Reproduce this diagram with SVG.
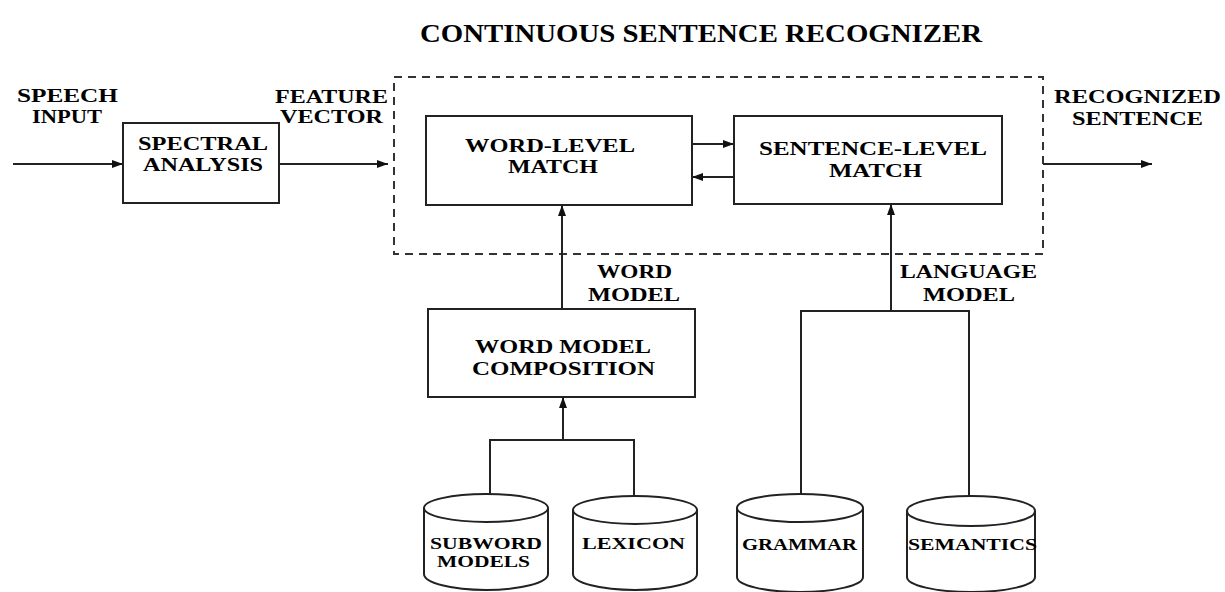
<svg xmlns="http://www.w3.org/2000/svg" width="1225" height="592" viewBox="0 0 1225 592">
  <style>
    .t { font-family: "Liberation Serif", "Times New Roman", serif; font-weight: bold; fill: #000; }
    .title { font-size: 25px; }
    .lbl { font-size: 18px; }
    .box-t { font-size: 18px; }
    .db-t { font-size: 16px; }
    .box { fill: #fff; stroke: #222; stroke-width: 2; }
    .frame { fill: none; stroke: #333; stroke-width: 2; stroke-dasharray: 8 6; }
    .wire { fill: none; stroke: #222; stroke-width: 2; }
    .arrow { fill: none; stroke: #222; stroke-width: 2; marker-end: url(#head); }
    .cyl { fill: #fff; stroke: #222; stroke-width: 2; }
  </style>
  <defs>
    <marker id="head" markerUnits="userSpaceOnUse" markerWidth="12" markerHeight="10" refX="11" refY="4" orient="auto">
      <path d="M0,0 L11,4 L0,8 Z" fill="#111"/>
    </marker>
  </defs>

  <rect width="1225" height="592" fill="#fff"/>

  <!-- heading -->
  <text class="t title" x="420" y="42" textLength="562" lengthAdjust="spacingAndGlyphs">CONTINUOUS SENTENCE RECOGNIZER</text>

  <!-- recognizer boundary -->
  <rect id="recognizer-frame" class="frame" x="394" y="77" width="649" height="177"/>

  <!-- free labels -->
  <g id="label-speech-input">
    <text class="t lbl" x="17" y="102" textLength="101" lengthAdjust="spacingAndGlyphs">SPEECH</text>
    <text class="t lbl" x="32" y="123" textLength="70" lengthAdjust="spacingAndGlyphs">INPUT</text>
  </g>
  <g id="label-feature-vector">
    <text class="t lbl" x="275" y="103" textLength="113" lengthAdjust="spacingAndGlyphs">FEATURE</text>
    <text class="t lbl" x="280" y="123" textLength="103" lengthAdjust="spacingAndGlyphs">VECTOR</text>
  </g>
  <g id="label-recognized-sentence">
    <text class="t lbl" x="1054" y="103" textLength="167" lengthAdjust="spacingAndGlyphs">RECOGNIZED</text>
    <text class="t lbl" x="1072" y="125" textLength="131" lengthAdjust="spacingAndGlyphs">SENTENCE</text>
  </g>
  <g id="label-word-model">
    <text class="t lbl" x="597" y="278" textLength="75" lengthAdjust="spacingAndGlyphs">WORD</text>
    <text class="t lbl" x="588" y="301" textLength="92" lengthAdjust="spacingAndGlyphs">MODEL</text>
  </g>
  <g id="label-language-model">
    <text class="t lbl" x="900" y="278" textLength="137" lengthAdjust="spacingAndGlyphs">LANGUAGE</text>
    <text class="t lbl" x="923" y="301" textLength="92" lengthAdjust="spacingAndGlyphs">MODEL</text>
  </g>

  <!-- connectors -->
  <g id="connectors">
    <line class="arrow" x1="13" y1="164" x2="123" y2="164"/>
    <line class="arrow" x1="279" y1="164" x2="388" y2="164"/>
    <line class="arrow" x1="692" y1="144" x2="734" y2="144"/>
    <line class="arrow" x1="734" y1="177" x2="692" y2="177"/>
    <line class="arrow" x1="1043" y1="164" x2="1152" y2="164"/>
    <line class="arrow" x1="562" y1="309" x2="562" y2="205"/>
    <line class="arrow" x1="891" y1="311" x2="891" y2="204"/>
    <line class="arrow" x1="563" y1="440" x2="563" y2="397"/>
    <path class="wire" d="M490,494 V440 H634 V496"/>
    <path class="wire" d="M801,494 V311 H969 V496"/>
  </g>

  <!-- processing blocks -->
  <g id="spectral-analysis">
    <rect class="box" x="123" y="123" width="156" height="80"/>
    <text class="t box-t" x="138" y="150" textLength="130" lengthAdjust="spacingAndGlyphs">SPECTRAL</text>
    <text class="t box-t" x="143" y="171" textLength="120" lengthAdjust="spacingAndGlyphs">ANALYSIS</text>
  </g>
  <g id="word-level-match">
    <rect class="box" x="426" y="116" width="266" height="89"/>
    <text class="t box-t" x="465" y="152" textLength="170" lengthAdjust="spacingAndGlyphs">WORD-LEVEL</text>
    <text class="t box-t" x="508" y="173" textLength="90" lengthAdjust="spacingAndGlyphs">MATCH</text>
  </g>
  <g id="sentence-level-match">
    <rect class="box" x="734" y="116" width="268" height="88"/>
    <text class="t box-t" x="759" y="155" textLength="228" lengthAdjust="spacingAndGlyphs">SENTENCE-LEVEL</text>
    <text class="t box-t" x="829" y="177" textLength="93" lengthAdjust="spacingAndGlyphs">MATCH</text>
  </g>
  <g id="word-model-composition">
    <rect class="box" x="428" y="309" width="267" height="88"/>
    <text class="t box-t" x="475" y="353" textLength="176" lengthAdjust="spacingAndGlyphs">WORD MODEL</text>
    <text class="t box-t" x="472" y="375" textLength="183" lengthAdjust="spacingAndGlyphs">COMPOSITION</text>
  </g>

  <!-- knowledge sources -->
  <g id="subword-models">
    <path class="cyl" d="M424,508 V574 A62,16 0 0 0 548,574 V508"/>
    <ellipse class="cyl" cx="486" cy="508" rx="62" ry="14"/>
    <text class="t db-t" x="430" y="549" textLength="112" lengthAdjust="spacingAndGlyphs">SUBWORD</text>
    <text class="t db-t" x="437" y="567" textLength="93" lengthAdjust="spacingAndGlyphs">MODELS</text>
  </g>
  <g id="lexicon">
    <path class="cyl" d="M573,510 V574 A62,16 0 0 0 697,574 V510"/>
    <ellipse class="cyl" cx="635" cy="510" rx="62" ry="14"/>
    <text class="t db-t" x="582" y="549" textLength="103" lengthAdjust="spacingAndGlyphs">LEXICON</text>
  </g>
  <g id="grammar">
    <path class="cyl" d="M737,508 V577 A63,15 0 0 0 863,577 V508"/>
    <ellipse class="cyl" cx="800" cy="508" rx="63" ry="14"/>
    <text class="t db-t" x="742" y="550" textLength="115" lengthAdjust="spacingAndGlyphs">GRAMMAR</text>
  </g>
  <g id="semantics">
    <path class="cyl" d="M907,511 V577 A64,15 0 0 0 1035,577 V511"/>
    <ellipse class="cyl" cx="971" cy="511" rx="64" ry="15"/>
    <text class="t db-t" x="908" y="550" textLength="129" lengthAdjust="spacingAndGlyphs">SEMANTICS</text>
  </g>
</svg>
